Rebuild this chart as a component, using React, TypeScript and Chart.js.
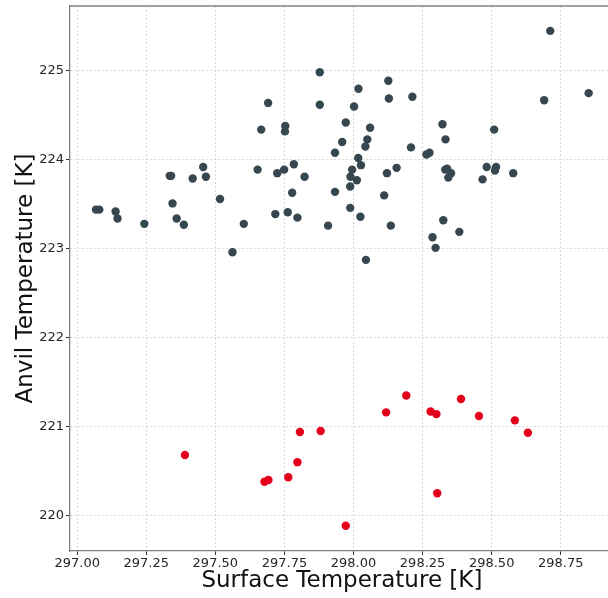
import { useEffect, useRef } from 'react';
import { Chart, registerables } from 'chart.js';

Chart.register(...registerables);

const FONT = "'DejaVu Sans', sans-serif";

// Warm-season cases (dark points)
const warmSurfaceT = [
  297.068, 297.080, 297.139, 297.146, 297.243, 297.335, 297.340, 297.345, 297.360, 297.386,
  297.418, 297.456, 297.466, 297.517, 297.562, 297.603, 297.653, 297.666, 297.691, 297.717,
  297.724, 297.749, 297.753, 297.752, 297.762, 297.778, 297.784, 297.797, 297.823, 297.878,
  297.878, 297.908, 297.933, 297.933, 298.712, 298.126, 298.018, 298.128, 298.213, 298.690,
  298.851, 298.002, 297.972, 298.060, 298.322, 298.509, 297.959, 298.050, 298.043, 298.333,
  298.208, 298.264, 298.275, 298.017, 297.995, 298.027, 297.989, 298.012, 297.988, 298.121,
  298.156, 298.332, 298.339, 298.353, 298.343, 298.482, 298.516, 298.512, 298.467, 298.578,
  298.111, 297.988, 298.025, 298.135, 298.325, 298.383, 298.286, 298.297, 298.045,
];
const warmAnvilT = [
  223.44, 223.44, 223.42, 223.34, 223.28, 223.82, 223.82, 223.51, 223.34, 223.27,
  223.79, 223.92, 223.81, 223.56, 222.96, 223.28, 223.89, 224.34, 224.64, 223.39,
  223.85, 223.89, 224.38, 224.32, 223.41, 223.63, 223.95, 223.35, 223.81, 224.985,
  224.62, 223.26, 224.08, 223.64, 225.45, 224.89, 224.80, 224.69, 224.71, 224.67,
  224.75, 224.60, 224.42, 224.36, 224.40, 224.34, 224.20, 224.23, 224.15, 224.23,
  224.14, 224.06, 224.08, 224.02, 223.89, 223.94, 223.81, 223.77, 223.70, 223.85,
  223.91, 223.89, 223.90, 223.85, 223.80, 223.92, 223.92, 223.88, 223.78, 223.85,
  223.60, 223.46, 223.36, 223.26, 223.32, 223.19, 223.13, 223.01, 222.875,
];

// Cold-anvil cases (red points)
const coldSurfaceT = [
  297.390, 297.678, 297.692, 297.764, 297.797, 297.806, 297.881, 297.972, 298.118,
  298.191, 298.279, 298.300, 298.303, 298.389, 298.454, 298.584, 298.631,
];
const coldAnvilT = [
  220.68, 220.38, 220.40, 220.43, 220.60, 220.94, 220.95, 219.885, 221.16,
  221.35, 221.17, 221.14, 220.25, 221.31, 221.12, 221.07, 220.93,
];

const xTicks = [297.0, 297.25, 297.5, 297.75, 298.0, 298.25, 298.5, 298.75];
const yTicks = [220, 221, 222, 223, 224, 225];

const X_MIN = 296.974;
const X_MAX = 298.942;
const Y_MIN = 219.601;
const Y_MAX = 225.73;

const toPoints = (xs: number[], ys: number[]) => xs.map((x, i) => ({ x, y: ys[i] }));

// Draws the top spine (the x/y scales only draw bottom and left borders)
const topSpine = {
  id: 'topSpine',
  afterDraw(chart: Chart) {
    const { ctx, chartArea } = chart;
    ctx.save();
    ctx.strokeStyle = '#808080';
    ctx.lineWidth = 1.3;
    ctx.beginPath();
    ctx.moveTo(chartArea.left, chartArea.top);
    ctx.lineTo(chartArea.right, chartArea.top);
    ctx.stroke();
    ctx.restore();
  },
};

export default function App() {
  const ref = useRef<HTMLCanvasElement>(null);

  useEffect(() => {
    const canvas = ref.current;
    if (!canvas) return;
    const chart = new Chart(canvas, {
      type: 'scatter',
      data: {
        datasets: [
          {
            data: toPoints(warmSurfaceT, warmAnvilT),
            backgroundColor: '#37474f',
            borderColor: '#37474f',
            borderWidth: 0,
            pointRadius: 4.2,
          },
          {
            data: toPoints(coldSurfaceT, coldAnvilT),
            backgroundColor: '#e4001b',
            borderColor: '#e4001b',
            borderWidth: 0,
            pointRadius: 4.2,
          },
        ],
      },
      options: {
        responsive: false,
        animation: false,
        devicePixelRatio: 1,
        layout: { padding: { top: 6, left: 0, right: 0, bottom: 0 } },
        plugins: { legend: { display: false }, tooltip: { enabled: false } },
        scales: {
          x: {
            type: 'linear',
            min: X_MIN,
            max: X_MAX,
            afterBuildTicks: (s: any) => {
              s.ticks = xTicks.map((v) => ({ value: v }));
            },
            afterFit: (s: any) => {
              s.height = 47;
              s.paddingLeft = 0;
              s.paddingRight = 0;
            },
            ticks: {
              font: { family: FONT, size: 13 },
              color: '#262626',
              padding: 1,
              maxRotation: 0,
              autoSkip: false,
              callback: (v: any) => Number(v).toFixed(2),
            },
            grid: { color: '#cfcfcf', lineWidth: 0.8, tickLength: 4, tickColor: '#333333', tickWidth: 1 },
            border: { color: '#808080', width: 1.3, dash: [2, 2] },
            title: {
              display: true,
              text: 'Surface Temperature [K]',
              font: { family: FONT, size: 23 },
              color: '#111111',
              padding: { top: 0, bottom: 3 },
            },
          },
          y: {
            type: 'linear',
            min: Y_MIN,
            max: Y_MAX,
            afterBuildTicks: (s: any) => {
              s.ticks = yTicks.map((v) => ({ value: v }));
            },
            afterFit: (s: any) => {
              s.width = 70;
              s.paddingTop = 0;
              s.paddingBottom = 0;
            },
            ticks: {
              font: { family: FONT, size: 13 },
              color: '#262626',
              padding: 2,
              callback: (v: any) => String(Math.round(Number(v))),
            },
            grid: { color: '#cfcfcf', lineWidth: 0.8, tickLength: 4, tickColor: '#333333', tickWidth: 1 },
            border: { color: '#808080', width: 1.3, dash: [2, 2] },
            title: {
              display: true,
              text: 'Anvil Temperature [K]',
              font: { family: FONT, size: 23 },
              color: '#111111',
              padding: { top: 12, bottom: 0 },
            },
          },
        },
      },
      plugins: [topSpine],
    });
    return () => chart.destroy();
  }, []);

  return (
    <div
      style={{
        position: 'fixed',
        left: 0,
        top: 0,
        width: 608,
        height: 598,
        overflow: 'hidden',
        background: '#ffffff',
      }}
    >
      <canvas ref={ref} width={618} height={598} style={{ display: 'block' }} />
    </div>
  );
}
